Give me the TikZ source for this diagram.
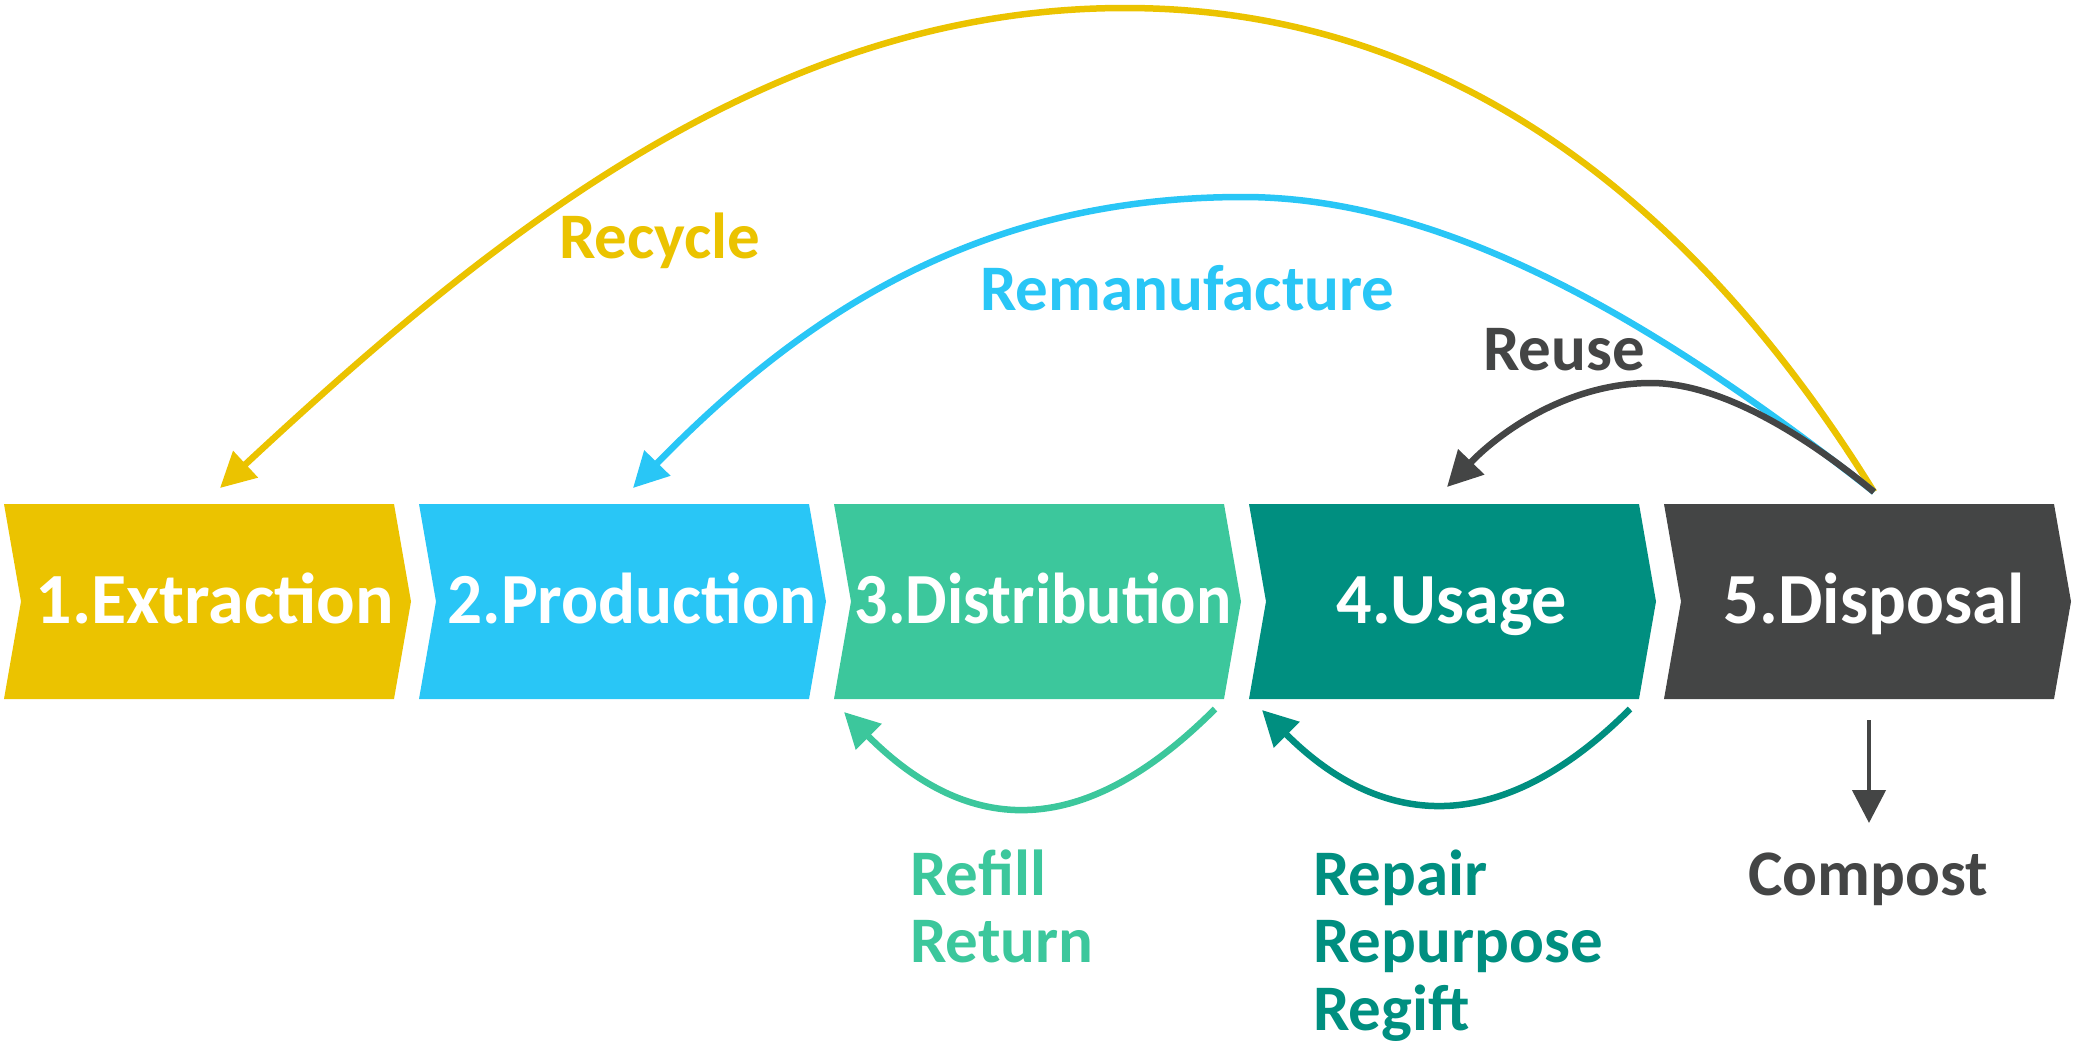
\documentclass[tikz,border=0pt]{standalone}
\usepackage{fontspec}
\setmainfont{Carlito}
\usetikzlibrary{arrows.meta}
\definecolor{cYel}{HTML}{EBC300}
\definecolor{cCya}{HTML}{29C6F6}
\definecolor{cGrn}{HTML}{3CC79C}
\definecolor{cTea}{HTML}{008F80}
\definecolor{cGry}{HTML}{444545}
\begin{document}
\begin{tikzpicture}[x=1pt,y=-1pt,
  blocklbl/.style={anchor=base, text=white, font=\fontsize{72}{80}\selectfont\bfseries, inner sep=0pt},
  sidelbl/.style={anchor=base west, font=\fontsize{65}{72}\selectfont\bfseries, inner sep=0pt},
  loop/.style={line width=6.5pt, -{Triangle[length=35pt,width=35pt]}}]
\useasboundingbox (0,0) rectangle (2073,1045);
% chevrons (y grows downward)
\fill[cYel] (4,504) -- ++(390,0) -- ++(17,97.5) -- ++(-17,97.5) -- ++(-390,0) -- ++(17,-97.5) -- cycle;
\fill[cCya] (419,504) -- ++(390,0) -- ++(17,97.5) -- ++(-17,97.5) -- ++(-390,0) -- ++(17,-97.5) -- cycle;
\fill[cGrn] (834,504) -- ++(390,0) -- ++(17,97.5) -- ++(-17,97.5) -- ++(-390,0) -- ++(17,-97.5) -- cycle;
\fill[cTea] (1249,504) -- ++(390,0) -- ++(17,97.5) -- ++(-17,97.5) -- ++(-390,0) -- ++(17,-97.5) -- cycle;
\fill[cGry] (1664,504) -- ++(390,0) -- ++(17,97.5) -- ++(-17,97.5) -- ++(-390,0) -- ++(17,-97.5) -- cycle;
\node[blocklbl] (b1) at (215,623) {1.Extraction};
\node[blocklbl] (b2) at (632,623) {\scalebox{0.96}[1]{2.Production}};
\node[blocklbl] (b3) at (1043,623) {\scalebox{0.915}[1]{3.Distribution}};
\node[blocklbl] (b4) at (1452,623) {\scalebox{0.975}[1]{4.Usage}};
\node[blocklbl] (b5) at (1874,623) {\scalebox{0.98}[1]{5.Disposal}};
% connector end points
\coordinate (src) at (1874,492);
\coordinate (t1) at (220,488);
\coordinate (t2) at (633,488);
\coordinate (t4) at (1447,487);
\coordinate (s3) at (1215,709);
\coordinate (e3) at (844,712);
\coordinate (s4) at (1630,709);
\coordinate (e4) at (1262,710);
\coordinate (cs) at (1869,720);
\coordinate (ce) at (1869,823);
% arcs
\draw[loop, cYel] (src) .. controls (1732,262) and (1495,8) .. (1125,8)
  .. controls (775,8) and (497,230) .. (t1);
\draw[loop, cCya] (src) .. controls (1653,318) and (1443,197) .. (1243,197)
  .. controls (993,197) and (815,301) .. (t2);
\draw[loop, cGry] (src) .. controls (1805,435) and (1721,383) .. (1651,383)
  .. controls (1571,383) and (1503,429) .. (t4);
\draw[loop, cGrn] (s3) .. controls (1085,839) and (971,839) .. (e3);
\draw[loop, cTea] (s4) .. controls (1505,834) and (1386,834) .. (e4);
\draw[cGry, line width=4.5pt, -{Triangle[length=33pt,width=33pt]}] (cs) -- (ce);
% labels
\node[sidelbl, text=cYel] (lrec) at (559,258) {Recycle};
\node[sidelbl, text=cCya] (lrem) at (980,310) {Remanufacture};
\node[sidelbl, text=cGry] (lreu) at (1483,370) {Reuse};
\node[sidelbl, text=cGrn] (lref) at (910,895) {Refill};
\node[sidelbl, text=cGrn] (lret) at (910,962) {Return};
\node[sidelbl, text=cTea] (lrep) at (1313,895) {Repair};
\node[sidelbl, text=cTea] (lrpp) at (1313,962) {Repurpose};
\node[sidelbl, text=cTea] (lrgf) at (1313,1030) {Regift};
\node[anchor=base, font=\fontsize{65}{72}\selectfont\bfseries, inner sep=0pt, text=cGry] (lcmp) at (1868,895) {Compost};
\end{tikzpicture}
\end{document}
